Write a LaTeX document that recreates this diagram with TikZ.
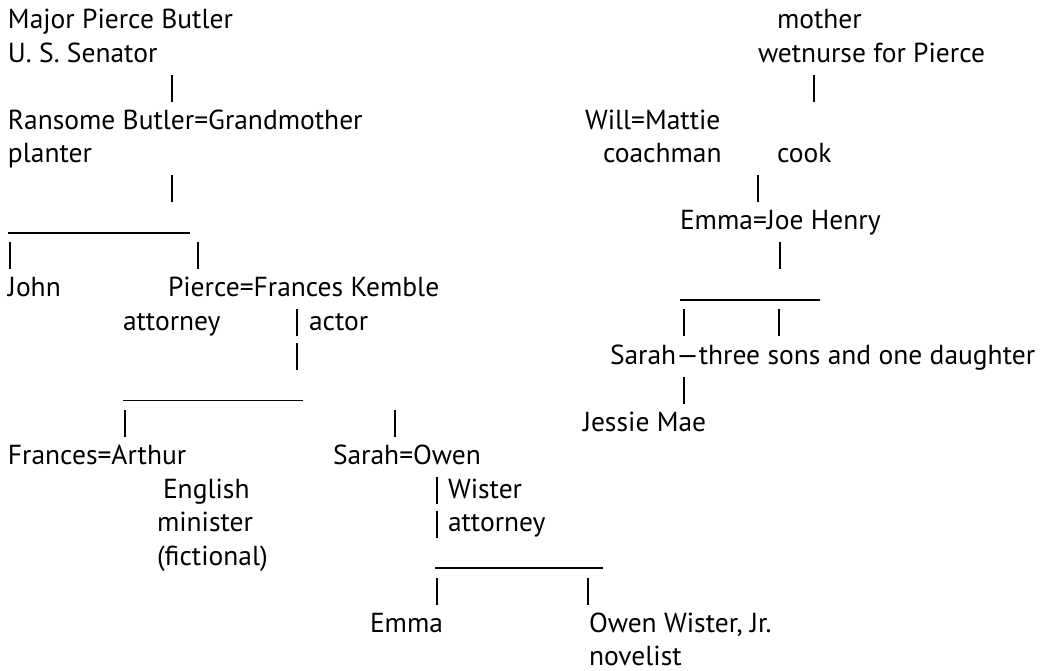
\documentclass[tikz,border=0pt]{standalone}
\usepackage{fontspec}
\setmainfont{PT Sans}
\usepackage{tikz}
\usetikzlibrary{positioning}

\begin{document}
\begin{tikzpicture}[x=1pt,y=-1pt]
  \tikzset{
    person/.style={anchor=base west, inner sep=0pt, outer sep=0pt, font=\fontsize{27.5}{33}\selectfont},
    tie/.style={black, line width=1.3pt}
  }
  \useasboundingbox (0,0) rectangle (1045,671);

  % baseline of text row #1
  \def\rowy#1{(29+33.5*#1)}
  % vertical stroke: name, x, row
  \def\stem#1#2#3{%
    \coordinate (#1-top) at (#2,{\rowy{#3}-21});
    \coordinate (#1-bot) at (#2,{\rowy{#3}+6});
    \draw[tie] (#1-top) -- (#1-bot);}
  % sibling rail: name, x from, x to, row
  \def\rail#1#2#3#4{%
    \coordinate (#1-l) at (#2,{\rowy{#4}+3});
    \coordinate (#1-r) at (#3,{\rowy{#4}+3});
    \draw[tie] (#1-l) -- (#1-r);}

  % ================= BUTLER FAMILY =================
  \node[person] (major) at (8,{\rowy{0}}) {Major Pierce Butler};
  \node[person] (senator) at (8,{\rowy{1}}) {U. S. Senator};
  \stem{s1}{172}{2}
  \node[person] (ransome) at (8,{\rowy{3}}) {Ransome Butler=Grandmother};
  \node[person] (planter) at (8,{\rowy{4}}) {planter};
  \stem{s2}{172}{5}
  \rail{r1}{8}{190}{6}
  \stem{s3}{10}{7}
  \stem{s4}{198}{7}
  \node[person] (john) at (8,{\rowy{8}}) {John};
  \node[person] (pierce) at (168,{\rowy{8}}) {Pierce=Frances Kemble};
  \node[person] (pattorney) at (123,{\rowy{9}}) {attorney};
  \stem{s5}{297}{9}
  \node[person] (actor) at (309,{\rowy{9}}) {actor};
  \stem{s6}{297}{10}
  \rail{r2}{123}{303}{11}
  \stem{s7}{125}{12}
  \stem{s8}{395}{12}
  \node[person] (frances) at (8,{\rowy{13}}) {Frances=Arthur};
  \node[person] (sarah) at (333,{\rowy{13}}) {Sarah=Owen};
  \node[person] (english) at (163,{\rowy{14}}) {English};
  \stem{s9}{437}{14}
  \node[person] (wister) at (448,{\rowy{14}}) {Wister};
  \node[person] (minister) at (157,{\rowy{15}}) {minister};
  \stem{s10}{437}{15}
  \node[person] (oattorney) at (448,{\rowy{15}}) {attorney};
  \node[person] (fictional) at (157,{\rowy{16}}) {(fictional)};
  \rail{r3}{435}{603}{16}
  \stem{s11}{437}{17}
  \stem{s12}{588}{17}
  \node[person] (emma) at (370,{\rowy{18}}) {Emma};
  \node[person] (owenjr) at (589,{\rowy{18}}) {Owen Wister, Jr.};
  \node[person] (novelist) at (589,{\rowy{19}}) {novelist};

  % ================= HOUSEHOLD FAMILY =================
  \node[person] (mother) at (777,{\rowy{0}}) {mother};
  \node[person] (wetnurse) at (758,{\rowy{1}}) {wetnurse for Pierce};
  \stem{s13}{814}{2}
  \node[person] (will) at (585,{\rowy{3}}) {Will=Mattie};
  \node[person] (coachman) at (603,{\rowy{4}}) {coachman};
  \node[person] (cook) at (777,{\rowy{4}}) {cook};
  \stem{s14}{758}{5}
  \node[person] (emmajoe) at (680,{\rowy{6}}) {Emma=Joe Henry};
  \stem{s15}{780}{7}
  \rail{r4}{680}{820}{8}
  \stem{s16}{684}{9}
  \stem{s17}{779}{9}
  \node[person] (sarahsons) at (610,{\rowy{10}}) {Sarah—three sons and one daughter};
  \stem{s18}{684}{11}
  \node[person] (jessie) at (583,{\rowy{12}}) {Jessie Mae};

\end{tikzpicture}
\end{document}
